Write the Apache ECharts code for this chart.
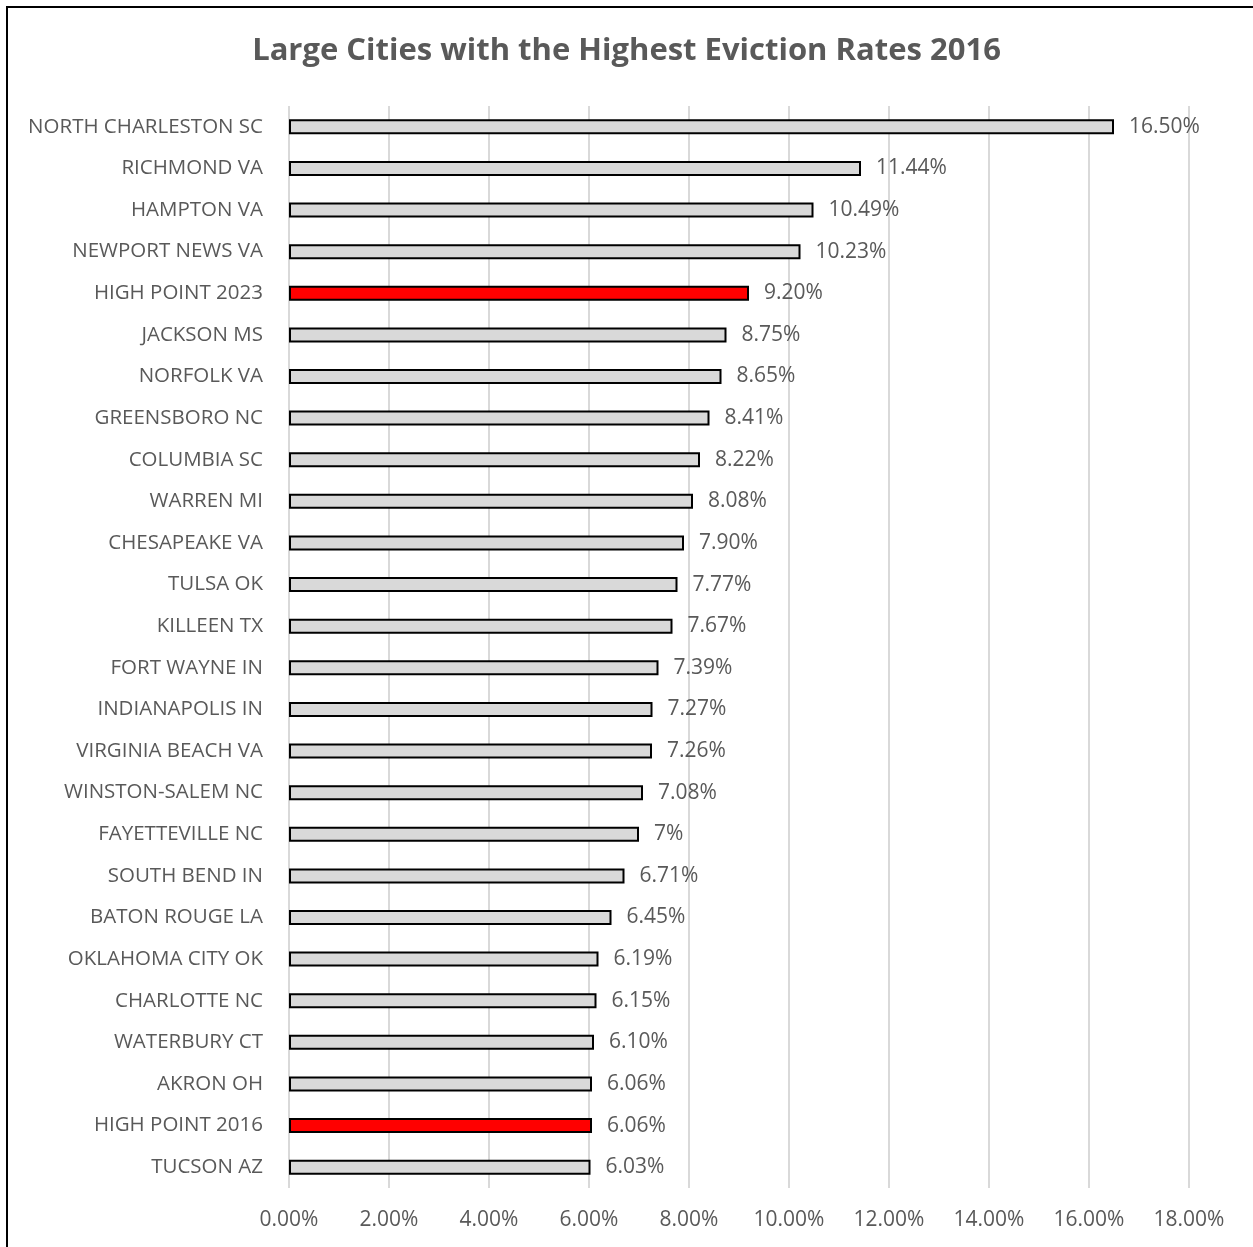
<!DOCTYPE html>
<html>
<head>
<meta charset="utf-8">
<script src="https://cdn.jsdelivr.net/npm/echarts@6/dist/echarts.min.js"></script>
<style>
  html, body { margin: 0; padding: 0; background: #fff; }
  #chart { width: 1253px; height: 1247px; }
</style>
</head>
<body>
<div id="chart"></div>
<script>
const cities = [
  'NORTH CHARLESTON SC', 'RICHMOND VA', 'HAMPTON VA', 'NEWPORT NEWS VA', 'HIGH POINT 2023',
  'JACKSON MS', 'NORFOLK VA', 'GREENSBORO NC', 'COLUMBIA SC', 'WARREN MI',
  'CHESAPEAKE VA', 'TULSA OK', 'KILLEEN TX', 'FORT WAYNE IN', 'INDIANAPOLIS IN',
  'VIRGINIA BEACH VA', 'WINSTON-SALEM NC', 'FAYETTEVILLE NC', 'SOUTH BEND IN', 'BATON ROUGE LA',
  'OKLAHOMA CITY OK', 'CHARLOTTE NC', 'WATERBURY CT', 'AKRON OH', 'HIGH POINT 2016', 'TUCSON AZ'
];
const rates = [
  0.1650, 0.1144, 0.1049, 0.1023, 0.0920,
  0.0875, 0.0865, 0.0841, 0.0822, 0.0808,
  0.0790, 0.0777, 0.0767, 0.0739, 0.0727,
  0.0726, 0.0708, 0.0700, 0.0671, 0.0645,
  0.0619, 0.0615, 0.0610, 0.0606, 0.0606, 0.0603
];
const rateLabels = [
  '16.50%', '11.44%', '10.49%', '10.23%', '9.20%',
  '8.75%', '8.65%', '8.41%', '8.22%', '8.08%',
  '7.90%', '7.77%', '7.67%', '7.39%', '7.27%',
  '7.26%', '7.08%', '7%', '6.71%', '6.45%',
  '6.19%', '6.15%', '6.10%', '6.06%', '6.06%', '6.03%'
];
const highlighted = ['HIGH POINT 2023', 'HIGH POINT 2016'];

const FONT = '"Open Sans", sans-serif';
const TEXT = '#595959';

const chart = echarts.init(document.getElementById('chart'));

chart.setOption({
  backgroundColor: '#fff',
  animation: false,
  title: {
    text: 'Large Cities with the Highest Eviction Rates 2016',
    left: 'center',
    top: 31,
    textStyle: { fontFamily: FONT, fontSize: 31, fontWeight: 'bold', color: TEXT }
  },
  graphic: [{
    type: 'rect',
    shape: { x: 7, y: 7, width: 1300, height: 1300 },
    style: { fill: 'none', stroke: '#000', lineWidth: 2 },
    silent: true
  }],
  grid: { left: 289, right: 64, top: 106, bottom: 59 },
  xAxis: {
    type: 'value',
    min: 0,
    max: 0.18,
    interval: 0.02,
    axisLine: { show: false },
    axisTick: { show: false },
    splitLine: { lineStyle: { color: '#d9d9d9', width: 2 } },
    axisLabel: {
      fontFamily: FONT, fontSize: 21, color: TEXT, margin: 22,
      formatter: (v) => (v * 100).toFixed(2) + '%'
    }
  },
  yAxis: {
    type: 'category',
    data: cities,
    inverse: true,
    axisLine: { show: false },
    axisTick: { show: false },
    axisLabel: { fontFamily: FONT, fontSize: 20.5, color: TEXT, margin: 26 }
  },
  series: [{
    type: 'bar',
    barWidth: 15,
    data: rates.map((v, i) => ({
      value: v,
      itemStyle: { color: highlighted.includes(cities[i]) ? '#ff0000' : '#d9d9d9' }
    })),
    itemStyle: { borderColor: '#000', borderWidth: 2 },
    label: {
      show: true,
      position: 'right',
      distance: 15,
      fontFamily: FONT,
      fontSize: 21,
      color: TEXT,
      formatter: (p) => rateLabels[p.dataIndex]
    }
  }]
});
</script>
</body>
</html>
